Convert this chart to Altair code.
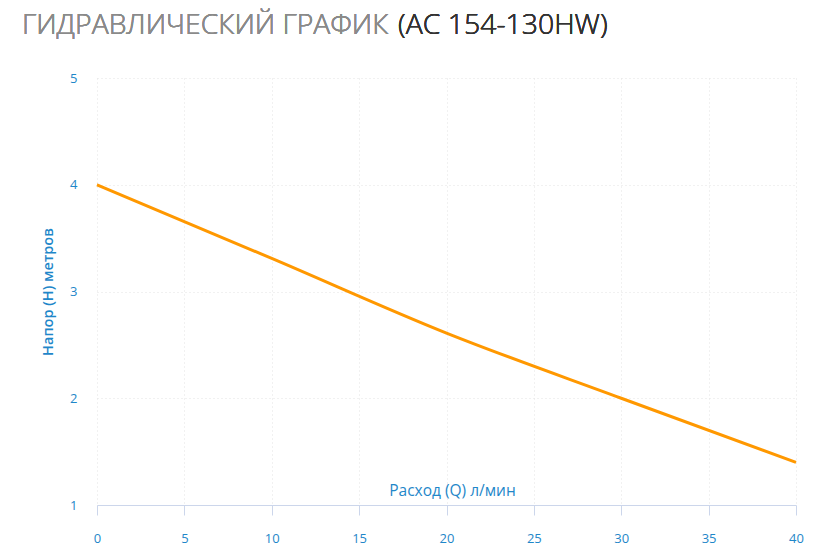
import altair as alt
import pandas as pd

flow = [0, 10, 20, 30, 40]
head = [4.0, 3.31, 2.61, 2.0, 1.4]
x_ticks = [0, 5, 10, 15, 20, 25, 30, 35, 40]
y_ticks = [1, 2, 3, 4, 5]

title_main = "ГИДРАВЛИЧЕСКИЙ ГРАФИК"
title_model = "(AC 154-130HW)"
x_title = "Расход (Q) л/мин"
y_title = "Напор (H) метров"

df = pd.DataFrame({"q": flow, "h": head})

blue = "#1f87c9"
font = "Open Sans"

line = alt.Chart(df).mark_line(
    color="#ff9800", strokeWidth=3, interpolate="monotone"
).encode(
    x=alt.X(
        "q:Q",
        scale=alt.Scale(domain=[0, 40], nice=False),
        axis=alt.Axis(
            values=x_ticks, title=x_title, titleColor=blue, titleFont=font,
            titleFontSize=15.5, titleFontWeight="normal", titleY=-10,
            titleBaseline="alphabetic", titleX=355,
            labelColor=blue, labelFont=font, labelFontSize=13, labelPadding=17,
            labelFlush=False,
            domainColor="#ccd6eb", tickColor="#ccd6eb", tickSize=10,
            gridColor="#e2e2e2", gridDash=[1, 3], gridWidth=1,
        ),
    ),
    y=alt.Y(
        "h:Q",
        scale=alt.Scale(domain=[1, 5], nice=False),
        axis=alt.Axis(
            values=y_ticks, title=y_title, titleColor=blue, titleFont=font,
            titleFontSize=14.5, titleFontWeight=600, titleAngle=-90,
            titleX=-49, titleY=213.5, titleAlign="center", titleBaseline="middle",
            labelColor=blue, labelFont=font, labelFontSize=13, labelPadding=20,
            domain=False, ticks=False,
            gridColor="#e2e2e2", gridDash=[1, 3], gridWidth=1,
        ),
    ),
)

t1 = alt.Chart(df).mark_text(
    align="left", baseline="alphabetic", font=font, fontSize=28.3,
    fontWeight=300, color="#8a8a8a",
).encode(x=alt.value(-75), y=alt.value(-44), text=alt.value(title_main))

t2 = alt.Chart(df).mark_text(
    align="left", baseline="alphabetic", font=font, fontSize=28.4,
    fontWeight=300, color="#333333",
).encode(x=alt.value(301), y=alt.value(-44), text=alt.value(title_model))

chart = alt.layer(line, t1, t2).properties(
    width=699, height=427,
    autosize=alt.AutoSizeParams(type="none"),
    padding={"left": 89, "top": 70, "right": 15, "bottom": 45},
).configure_view(stroke=None)

chart.save("out.html", embed_options={"renderer": "svg", "actions": False})
